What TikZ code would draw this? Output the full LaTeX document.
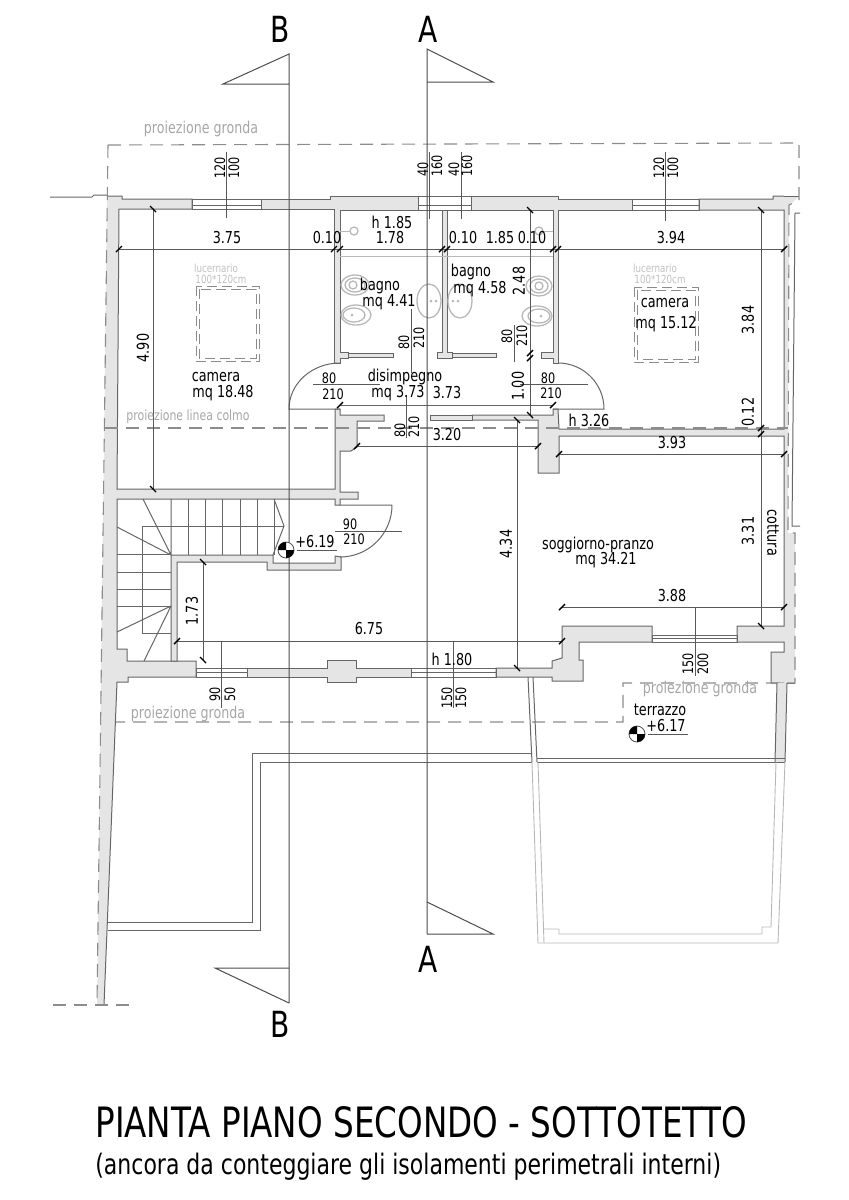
\documentclass[tikz,border=0pt]{standalone}
\usepackage{fontspec}
\setmainfont{DejaVu Sans}[FakeStretch=0.78]
\usetikzlibrary{calc}
\definecolor{wallgrey}{gray}{0.9}
\definecolor{lightgrey}{gray}{0.72}
\tikzset{
	wall/.style={draw=black!60, line width=0.5pt, fill=wallgrey},
	thinline/.style={draw=black!60, line width=0.5pt},
	cutline/.style={draw=black!70, line width=0.5pt},
	faintline/.style={draw=lightgrey, line width=0.45pt},
	fitting/.style={draw=lightgrey, line width=0.65pt},
	outline/.style={draw=black!45, line width=0.55pt, dash pattern=on 6.5pt off 4pt},
	skylight/.style={draw=black!45, line width=0.5pt, dash pattern=on 5pt off 2.5pt},
	dimline/.style={draw=black!65, line width=0.4pt},
	dimtick/.style={draw=black, line width=0.7pt},
	label/.style={inner sep=0pt, font=\fontsize{8.2}{10}\selectfont},
	smalllabel/.style={inner sep=0pt, font=\fontsize{7.2}{9}\selectfont},
	greylabel/.style={inner sep=0pt, text=black!35, font=\fontsize{8.1}{10}\selectfont},
	tinylabel/.style={inner sep=0pt, text=black!25, font=\fontsize{5.6}{7}\selectfont},
	sectionlabel/.style={inner sep=0pt, font=\fontsize{18}{20}\selectfont}
}
% quartered level mark
\newcommand{\levelmark}[2]{
	\draw[fill=white, draw=black!70, line width=0.4pt] (#1,#2) circle[radius=8];
	\fill (#1,#2) -- +(-8,0) arc[start angle=180, end angle=270, radius=8] -- cycle;
	\fill (#1,#2) -- +(8,0) arc[start angle=0, end angle=90, radius=8] -- cycle;
}
\begin{document}
\begin{tikzpicture}[x=0.5pt,y=-0.5pt]
	\useasboundingbox (0,0) rectangle (848,1200);

	% walls
	\draw[wall] (107,196) -- (122,196) -- (122,199) -- (192,199) -- (192,209) -- (119,209) -- (117,489) -- (335,489) -- (335,409) -- (340,409) -- (340,415) -- (384,415) -- (384,421) -- (357,421) -- (357,447) -- (351,451) -- (340,451) -- (340,492) -- (358,492) -- (358,499) -- (340,499) -- (340,505) -- (335,505) -- (335,499) -- (117,499) -- (117,649) -- (127,649) -- (127,661) -- (196,661) -- (196,677) -- (128,677) -- (128,682) -- (117,682) -- (104,1005) -- (97,1005);
	\draw[wall] (261,199) -- (330,199) -- (330,196) -- (418,196) -- (418,210) -- (340,210) -- (340,352) -- (348,352) -- (348,358) -- (340,358) -- (340,363) -- (334,363) -- (334,209) -- (261,209) -- cycle;
	\draw[wall] (442,210) -- (442,352) -- (437,352) -- (437,358) -- (452,358) -- (452,352) -- (447,352) -- (447,210) -- cycle;
	\draw[wall] (471,196) -- (558,196) -- (558,199) -- (632,199) -- (632,210) -- (558,210) -- (558,363) -- (553,363) -- (553,358) -- (541,358) -- (541,352) -- (553,352) -- (553,210) -- (471,210) -- cycle;
	\fill[wallgrey] (784,196) -- (799,196) -- (789,206) -- (788,533) -- (795,533) -- (795,683) -- (784,683) -- cycle;
	\draw[wall] (784,196) -- (773,196) -- (773,199) -- (699,199) -- (699,210) -- (784,210) -- (784,429) -- (559,429) -- (558,409) -- (553,409) -- (553,415) -- (472,415) -- (472,420) -- (538,420) -- (538,473) -- (559,473) -- (559,436) -- (784,436) -- (784,626) -- (737,626) -- (737,642) -- (784,642) -- (784,652) -- (771,652) -- (771,683) -- (784,683);
	\draw[thinline] (784,196) -- (799,196) (784,683) -- (795,683);
	\draw[wall] (171,661) -- (171,555) -- (273,555) -- (273,563) -- (335,563) -- (335,556) -- (341,557) -- (341,570) -- (267,570) -- (267,562) -- (177,562) -- (177,661) -- cycle;
	\draw[wall] (247,668) -- (327,668) -- (327,660) -- (356,660) -- (356,668) -- (411,668) -- (411,677) -- (356,677) -- (356,682) -- (327,682) -- (327,677) -- (247,677) -- cycle;
	\draw[wall] (496,668) -- (552,668) -- (552,661) -- (562,658) -- (562,626) -- (652,626) -- (652,642) -- (579,642) -- (579,660) -- (583,660) -- (583,681) -- (552,681) -- (552,677) -- (496,677) -- cycle;
	\draw[wall] (348,353) rectangle (393,357);
	\draw[wall] (452,353) rectangle (496,357);
	\draw[wall] (430,415) rectangle (472,420);

	% roof and ridge projections
	\draw[outline] (108,145) -- (799,143) -- (799,200) -- (789,205) -- (788,533) -- (795,533) -- (795,683) -- (623,683) -- (623,722) -- (116,722);
	\draw[outline] (108,145) -- (97,1005);
	\draw[outline] (53,1005) -- (136,1005);
	\draw[outline] (105,428) -- (788,428);
	\draw[thinline] (50,197) -- (92,197) -- (94,195) -- (107,195);
	\draw[thinline] (800,213) -- (795,213) -- (792,526) -- (800,526);

	% windows
	\draw[thinline] (192,199) rectangle (261,209) (192,205) -- (261,205);
	\draw[thinline] (632,199) rectangle (699,210) (632,205) -- (699,205);
	\draw[thinline] (418,196) rectangle (471,210) (418,205) -- (471,205);
	\draw[thinline] (196,668) rectangle (247,677) (196,672) -- (247,672);
	\draw[thinline] (411,668) rectangle (496,677) (411,672) -- (496,672);
	\draw[thinline] (652,635) rectangle (737,642) (652,638) -- (737,638);

	% doors
	\draw[thinline] (340,363) arc[start angle=-90, end angle=-180, x radius=51, y radius=46] -- (340,409);
	\draw[thinline] (558,363) arc[start angle=-90, end angle=0, x radius=46, y radius=46] -- (553,409);
	\draw[thinline] (392,505) arc[start angle=0, end angle=90, x radius=52, y radius=52] (392,505) -- (340,505);
	\draw[thinline] (340,405) -- (553,405);
	\draw[faintline] (340,256) -- (553,256);

	% stairs
	\foreach \x in {188,205,222,240,257,274}
		\draw[thinline] (\x,499) -- (\x,555);
	\foreach \y in {554,572,589,606}
		\draw[thinline] (117,\y) -- (171,\y);
	\draw[thinline] (171,499) -- (171,555) (171,555) -- (143,499) (171,555) -- (117,527);
	\draw[thinline] (171,606) -- (117,632) (171,606) -- (144,661);
	\draw[thinline] (284,526) -- (142,526) -- (142,633) -- (171,633);
	\draw[thinline] (274,499) -- (284,526) -- (273,555);

	% terrace
	\draw[thinline] (528,677) -- (532,762) (533,677) -- (537,762);
	\fill[wallgrey] (777,683) -- (787,683) -- (785,762) -- (775,762) -- cycle;
	\draw[thinline] (777,683) -- (775,762) (787,683) -- (785,762);
	\draw[thinline] (537,758) -- (785,758) (537,762) -- (785,762);
	\draw[thinline] (532,753) -- (252,753) -- (252,922) -- (108,922);
	\draw[thinline] (532,762) -- (260,762) -- (260,930) -- (108,930);
	\draw[faintline] (532,762) -- (538,943) -- (778,943) -- (785,762);
	\draw[faintline] (538,762) -- (544,943);
	\draw[faintline] (776,762) -- (771,927) -- (762,927) -- (762,934) -- (559,934) -- (559,929) -- (544,929);

	% bathroom fittings
	\foreach \x/\y/\rx/\ry in {355/285/14/10,356/315/15/10,429/301/12/17,460/301/12/17,539/286/13/10,537/316/15/10}
		\draw[fitting] (\x,\y) ellipse[x radius=\rx, y radius=\ry];
	\foreach \x/\y/\rx/\ry in {355/285/10/7,354/315/11/7,539/286/9/7,539/316/11/7}
		\draw[fitting] (\x,\y) ellipse[x radius=\rx, y radius=\ry];
	\foreach \x/\y in {353/285,539/286,354/231,539/231}
		\draw[fitting] (\x,\y) circle[radius=4];
	\foreach \x/\y in {431/301,436/301,453/301,458/301,352/315,541/316}
		\fill[lightgrey] (\x,\y) circle[radius=1.5];
	\draw[faintline] (340,231) -- (350,231);
	\draw[faintline] (553,231) -- (543,231);

	% skylights
	\draw[skylight] (196,286) rectangle (259,361);
	\draw[skylight] (199,289) rectangle (256,358);
	\draw[skylight] (634,287) rectangle (698,362);
	\draw[skylight] (637,290) rectangle (695,359);

	% section lines
	\draw[cutline] (289,1003) -- (289,54) -- (223,84) -- (289,84);
	\draw[cutline] (427,934) -- (427,49) -- (493,82) -- (427,82);
	\draw[cutline] (427,902) -- (493,934) -- (427,934);
	\draw[cutline] (289,968) -- (215,968) -- (289,1003);

	% dimension lines
	\draw[dimline] (119,249) -- (784,249);
	\draw[dimline] (153,209) -- (153,489);
	\draw[dimline] (530,210) -- (530,415);
	\draw[dimline] (761,210) -- (761,626);
	\draw[dimline] (517,420) -- (517,668);
	\draw[dimline] (203,562) -- (203,660);
	\draw[dimline] (177,641) -- (562,641);
	\draw[dimline] (357,446) -- (538,446);
	\draw[dimline] (559,454) -- (784,454);
	\draw[dimline] (562,607) -- (784,607);
	\draw[dimline] (226,152) -- (226,218);
	\draw[dimline] (665,152) -- (665,221);
	\draw[dimline] (429,152) -- (429,219);
	\draw[dimline] (461,152) -- (461,219);
	\draw[dimline] (695,607) -- (695,676);
	\draw[dimline] (453,641) -- (453,708);
	\draw[dimline] (221,641) -- (221,708);
	\draw[dimline] (313,384) -- (380,384);
	\draw[dimline] (520,384) -- (588,384);
	\draw[dimline] (335,531) -- (402,531);
	\draw[dimline] (411,309) -- (411,373);
	\draw[dimline] (514,325) -- (514,362);
	\draw[dimline] (406,395) -- (406,438);
	\draw[dimline] (297,550) -- (337,550);
	\draw[dimline] (648,734) -- (688,734);
	\foreach \x/\y in {119/249,334/249,340/249,442/249,447/249,553/249,558/249,784/249,177/641,562/641,357/446,538/446,559/454,784/454,562/607,784/607,340/405,553/405}
		\draw[dimtick] (\x,\y) ++(-3,3) -- ++(6,-6);
	\foreach \x/\y in {153/209,153/489,530/210,530/415,761/210,761/626,517/420,517/668,203/562,203/660}
		\draw[dimtick] (\x,\y) ++(-3,-3) -- ++(6,6);
	\foreach \x/\y in {530/353,530/358,761/428,761/434}
		\draw[dimtick] (\x,\y) ++(-3,3) -- ++(6,-6);

	% level marks
	\levelmark{286}{550}
	\levelmark{637}{734}

	% section letters
	\node[sectionlabel] (sectionBtop) at (280,29) {B};
	\node[sectionlabel] (sectionAtop) at (428,29) {A};
	\node[sectionlabel] (sectionAbot) at (428,959) {A};
	\node[sectionlabel] (sectionBbot) at (280,1024) {B};

	% rooms
	\node[label] (roomcameraL) at (216,377) {camera};
	\node[label] (areacameraL) at (223,393) {mq 18.48};
	\node[label] (roombagnoL) at (380,286) {bagno};
	\node[label] (areabagnoL) at (389,302) {mq 4.41};
	\node[label] (roombagnoR) at (471,272) {bagno};
	\node[label] (areabagnoR) at (480,289) {mq 4.58};
	\node[label] (roomcameraR) at (665,303) {camera};
	\node[label] (areacameraR) at (666,324) {mq 15.12};
	\node[label] (roomdisimp) at (405,377) {disimpegno};
	\node[label] (areadisimp) at (398,393) {mq 3.73};
	\node[label] (areadisimpB) at (447,393) {3.73};
	\node[label] (roomsoggiorno) at (598,545) {soggiorno-pranzo};
	\node[label] (areasoggiorno) at (606,560) {mq 34.21};
	\node[label] (roomterrazzo) at (660,710) {terrazzo};
	\node[label] (levelterrazzo) at (666,726) {+6.17};
	\node[label] (levelscala) at (315,542) {+6.19};
	\node[label, rotate=-90] (roomcottura) at (773,533) {cottura};

	% heights and measures
	\node[label] (hbagno) at (392,222) {h 1.85};
	\node[label] (hcamera) at (589,420) {h 3.26};
	\node[label] (hfronte) at (452,659) {h 1.80};
	\node[label] (dimA) at (227,238) {3.75};
	\node[label] (dimB) at (327,238) {0.10};
	\node[label] (dimC) at (390,238) {1.78};
	\node[label] (dimD) at (463,238) {0.10};
	\node[label] (dimE) at (500,238) {1.85};
	\node[label] (dimF) at (532,238) {0.10};
	\node[label] (dimG) at (671,238) {3.94};
	\node[label] (dimH) at (447,435) {3.20};
	\node[label] (dimI) at (672,443) {3.93};
	\node[label] (dimJ) at (672,596) {3.88};
	\node[label] (dimK) at (369,629) {6.75};
	\node[label, rotate=90] (dimL) at (143,348) {4.90};
	\node[label, rotate=90] (dimM) at (519,281) {2.48};
	\node[label, rotate=90] (dimN) at (518,386) {1.00};
	\node[label, rotate=90] (dimO) at (748,320) {3.84};
	\node[label, rotate=90] (dimP) at (748,412) {0.12};
	\node[label, rotate=90] (dimQ) at (748,531) {3.31};
	\node[label, rotate=90] (dimR) at (506,544) {4.34};
	\node[label, rotate=90] (dimS) at (192,611) {1.73};

	% openings
	\node[smalllabel] (dooraA) at (329,378) {80};
	\node[smalllabel] (doorbA) at (333,394) {210};
	\node[smalllabel] (dooraB) at (548,378) {80};
	\node[smalllabel] (doorbB) at (551,393) {210};
	\node[smalllabel] (dooraC) at (350,524) {90};
	\node[smalllabel] (doorbC) at (354,539) {210};
	\node[smalllabel, rotate=90] (dooraD) at (404,342) {80};
	\node[smalllabel, rotate=90] (doorbD) at (419,338) {210};
	\node[smalllabel, rotate=90] (dooraE) at (507,336) {80};
	\node[smalllabel, rotate=90] (doorbE) at (522,336) {210};
	\node[smalllabel, rotate=90] (dooraF) at (400,430) {80};
	\node[smalllabel, rotate=90] (doorbF) at (414,427) {210};
	\node[smalllabel, rotate=90] (winaA) at (220,168) {120};
	\node[smalllabel, rotate=90] (winbA) at (234,168) {100};
	\node[smalllabel, rotate=90] (winaB) at (659,168) {120};
	\node[smalllabel, rotate=90] (winbB) at (673,168) {100};
	\node[smalllabel, rotate=90] (winaC) at (423,169) {40};
	\node[smalllabel, rotate=90] (winbC) at (437,166) {160};
	\node[smalllabel, rotate=90] (winaD) at (454,169) {40};
	\node[smalllabel, rotate=90] (winbD) at (467,166) {160};
	\node[smalllabel, rotate=90] (winaE) at (688,664) {150};
	\node[smalllabel, rotate=90] (winbE) at (703,664) {200};
	\node[smalllabel, rotate=90] (winaF) at (447,698) {150};
	\node[smalllabel, rotate=90] (winbF) at (461,698) {150};
	\node[smalllabel, rotate=90] (winaG) at (215,694) {90};
	\node[smalllabel, rotate=90] (winbG) at (230,694) {50};

	% grey notes
	\node[greylabel] (grondaA) at (201,129) {proiezione gronda};
	\node[greylabel, font=\fontsize{7}{9}\selectfont] (colmo) at (188,417) {proiezione linea colmo};
	\node[greylabel] (grondaB) at (188,714) {proiezione gronda};
	\node[greylabel] (grondaC) at (700,689) {proiezione gronda};
	\node[tinylabel] (lucernA) at (216,268) {lucernario};
	\node[tinylabel] (sizeA) at (221,279) {100*120cm};
	\node[tinylabel] (lucernB) at (655,268) {lucernario};
	\node[tinylabel] (sizeB) at (660,279) {100*120cm};

	% title
	\node[anchor=west, inner sep=0pt, font=\fontsize{20.9}{24}\selectfont] (title) at (95,1122) {PIANTA PIANO SECONDO - SOTTOTETTO};
	\node[anchor=west, inner sep=0pt, font=\fontsize{14.1}{17}\selectfont] (subtitle) at (95,1167) {(ancora da conteggiare gli isolamenti perimetrali interni)};
\end{tikzpicture}
\end{document}
